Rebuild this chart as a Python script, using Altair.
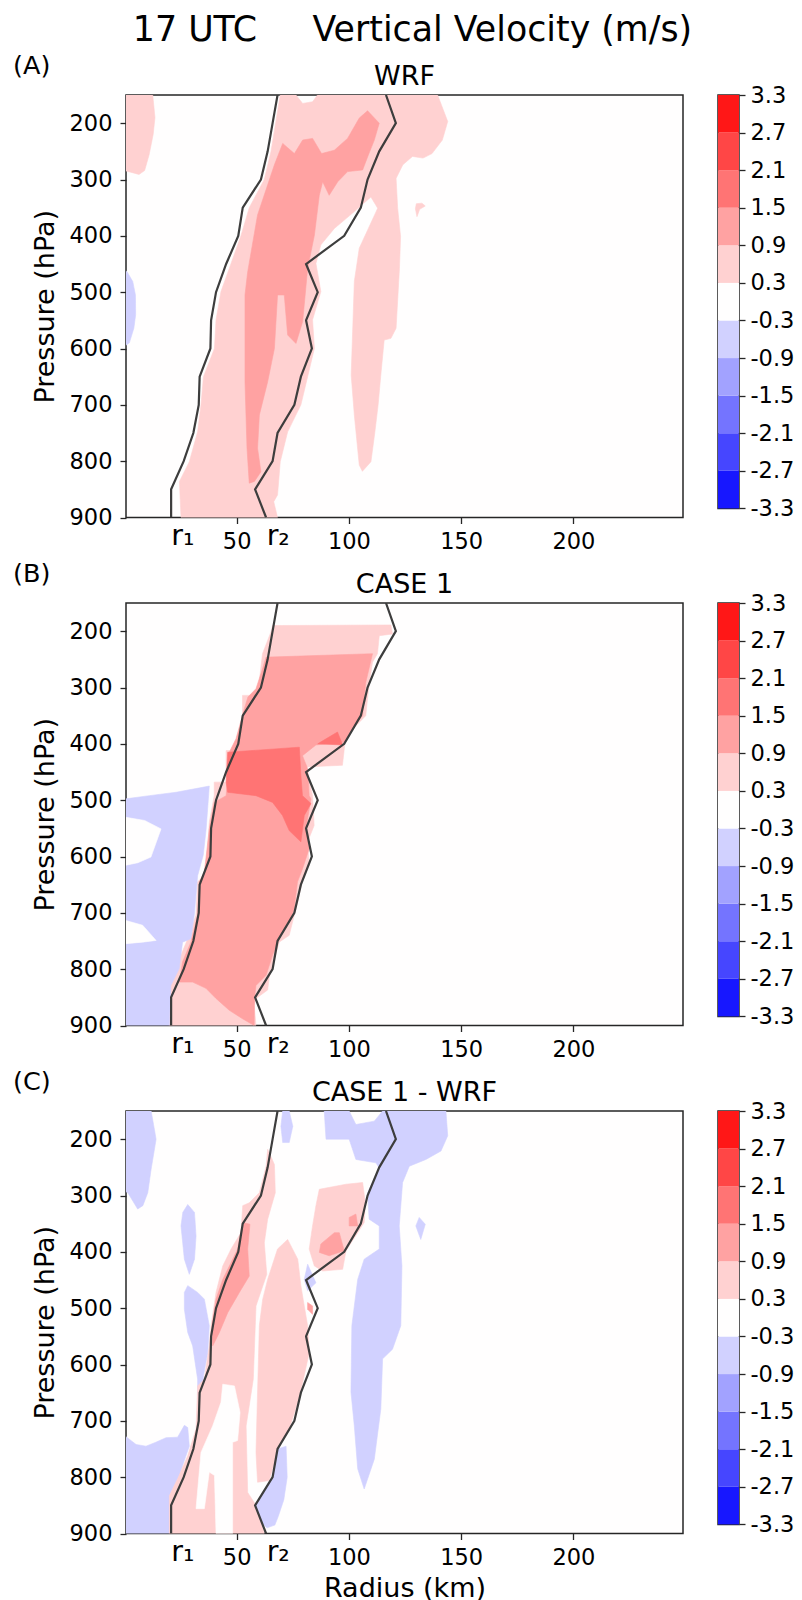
import altair as alt
import pandas as pd

FONT = "DejaVu Sans"

# Contour levels (m/s) and the colour of each filled band between them
LEVELS = [-3.3, -2.7, -2.1, -1.5, -0.9, -0.3, 0.3, 0.9, 1.5, 2.1, 2.7, 3.3]
BAND_COLORS = ["#1717ff", "#4646ff", "#7474ff", "#a2a2ff", "#d1d1ff", "#fffefe",
               "#ffd1d1", "#ffa2a2", "#ff7474", "#ff4646", "#ff1717"]

# Representative vertical velocity of each shaded region (m/s)
PALE_BLUE, WHITE, PALE_RED, MID_RED, RED = -0.6, 0.0, 0.6, 1.2, 1.8

X_TICKS = [50, 100, 150, 200]
Y_TICKS = [200, 300, 400, 500, 600, 700, 800, 900]

# Radii of the r1 / r2 lines at each pressure level
LINE_P = [900, 850, 800, 750, 700, 650, 600, 550, 500, 450, 400, 350, 300, 250, 200, 150]
R1 = [20.8, 20.8, 26.4, 30.7, 33.1, 33.5, 38.3, 38.6, 40.8, 45.3, 50.7, 52.7, 60.8, 63.8, 66.0, 68.2]
R2 = [63.1, 58.2, 66.0, 68.2, 75.7, 78.6, 83.5, 80.9, 86.1, 80.9, 97.9, 105.3, 108.3, 113.5, 120.9, 116.5]

R_MARKS = [26.0, 68.5]
R_NAMES = ["r\u2081", "r\u2082"]

# ---- WRF: contour regions as (radius km, pressure hPa) outlines ----
WRF_PALE_MAIN = [(25.2, 900), (24.5, 836), (28.9, 801), (32.6, 748), (34.1, 700), (35.2, 650),
                 (40.1, 600), (40.8, 549), (43.0, 499), (47.5, 449), (51.9, 400), (55.6, 350),
                 (62.3, 300), (65.3, 250), (69.4, 150), (76.4, 150), (79.4, 165), (83.8, 162),
                 (86.0, 150), (139.5, 150), (144.0, 197), (141.6, 230), (137.0, 254), (133.0, 262),
                 (128.3, 259), (124.0, 274), (121.0, 298), (121.7, 351), (123.0, 401), (122.5, 458),
                 (121.0, 564), (118.7, 582), (115.7, 585), (114.2, 647), (113.0, 700), (111.5, 750),
                 (109.8, 801), (106.0, 818), (104.6, 807), (102.4, 718), (101.0, 647), (102.4, 481),
                 (104.6, 422), (112.8, 351), (109.8, 331), (102.4, 357), (93.5, 387), (87.5, 416),
                 (85.3, 449), (87.5, 499), (83.8, 549), (84.6, 600), (81.6, 650), (78.6, 700),
                 (72.7, 748), (69.4, 801), (68.2, 860), (66.5, 872), (68.2, 900)]
WRF_PALE_TOPLEFT = [(0, 150), (12.6, 150), (13.6, 190), (12.8, 220), (11.0, 256), (9.0, 284),
                    (6.5, 291), (0, 284)]
WRF_PALE_BLOB = [(130.0, 343), (132.5, 342), (134.0, 347), (131.5, 353), (130.3, 366), (129.6, 352)]
WRF_BLUE_LEFT = [(0, 460), (1.2, 464), (3.7, 481), (4.9, 505), (5.0, 540), (4.2, 564), (2.2, 590),
                 (0, 596)]
WRF_MID = [(55.6, 839), (54.6, 777), (53.7, 659), (53.7, 505), (54.9, 464), (59.3, 363), (66.8, 274),
           (70.5, 236), (75.7, 254), (79.4, 230), (83.8, 227), (87.8, 254), (93.5, 248), (99.4, 227),
           (104.6, 191), (108.3, 178), (113.5, 200), (111.3, 230), (108.3, 260), (106.1, 283),
           (99.4, 286), (95.0, 304), (91.2, 328), (88.3, 304), (86.8, 328), (84.6, 399), (81.6, 458),
           (79.4, 552), (76.4, 591), (72.7, 576), (71.2, 505), (68.2, 505), (66.8, 600), (63.8, 659),
           (60.1, 718), (59.3, 777), (60.8, 819), (57.9, 836)]

# ---- CASE 1 ----
C1_PALE = [(66.0, 190), (118.7, 189), (119.4, 205), (113.5, 208), (112.7, 240), (110.5, 255),
           (108.8, 300), (107.5, 350), (103.1, 368), (98.6, 385), (97.1, 438), (80.8, 441),
           (83.8, 492), (84.5, 545), (81.6, 574), (82.3, 616), (81.1, 622), (79.5, 639), (77.1, 681),
           (74.9, 716), (73.4, 740), (68.9, 752), (66.0, 793), (64.5, 814), (63.8, 837), (58.6, 852),
           (57.8, 864), (58.6, 900), (20.0, 900), (20.0, 834), (23.7, 781), (25.2, 775), (28.2, 746),
           (31.9, 704), (32.6, 645), (35.6, 634), (37.1, 586), (37.8, 539), (40.0, 492), (40.0, 468),
           (45.3, 468), (45.3, 412), (49.0, 412), (52.6, 356), (52.6, 314), (57.8, 314), (60.0, 291),
           (61.5, 240), (65.3, 201)]
C1_BLUE = [(0, 498), (11.1, 492), (23.0, 486), (37.8, 475), (36.4, 551), (35.1, 598), (32.6, 634),
           (31.1, 704), (29.6, 746), (25.9, 752), (24.4, 799), (20.7, 829), (20.0, 900), (0, 900)]
C1_HOLE_1 = [(0, 530), (9.0, 536), (16.3, 551), (11.8, 601), (6.0, 611), (0, 616)]
C1_HOLE_2 = [(0, 713), (8.1, 722), (14.1, 749), (8.1, 752), (0, 755)]
C1_MID = [(64.5, 246), (110.5, 240), (107.5, 291), (106.1, 350), (102.3, 368), (97.9, 397),
          (85.3, 402), (79.3, 421), (81.6, 444), (82.3, 492), (83.1, 498), (80.8, 551), (82.3, 586),
          (79.3, 622), (77.1, 645), (75.6, 693), (73.4, 716), (68.9, 746), (66.0, 775), (63.1, 811),
          (58.6, 829), (57.9, 852), (57.8, 900), (52.6, 888), (46.7, 873), (40.8, 852), (36.3, 834),
          (30.4, 823), (24.5, 823), (25.9, 787), (29.6, 752), (32.6, 704), (33.4, 645), (35.6, 628),
          (37.8, 551), (40.0, 504), (45.3, 492), (46.7, 415), (49.7, 391), (53.4, 338), (55.0, 317),
          (58.6, 302), (61.5, 267), (63.1, 246)]
C1_RED = [(46.0, 415), (77.9, 406), (78.6, 456), (79.3, 492), (83.1, 506), (80.1, 527), (78.6, 574),
          (73.4, 554), (70.4, 527), (66.0, 504), (58.6, 492), (46.0, 486), (45.3, 468)]
C1_RED_SMALL = [(86.1, 400), (94.9, 379), (97.2, 402)]

# ---- CASE 1 - WRF ----
D_BLUE_1 = [(0, 150), (11.9, 150), (14.1, 200), (11.9, 253), (10.4, 295), (8.2, 318), (5.9, 324),
            (1.5, 295), (0, 292)]
D_BLUE_2 = [(28.2, 316), (31.2, 330), (31.9, 372), (31.2, 413), (28.9, 440), (26.7, 413),
            (25.2, 354), (26.0, 330)]
D_BLUE_3 = [(28.2, 460), (32.6, 472), (35.6, 484), (37.8, 531), (37.1, 579), (35.2, 620),
            (34.1, 700), (32.6, 703), (32.6, 626), (30.4, 567), (28.2, 543), (26.7, 502), (26.7, 472)]
D_BLUE_4 = [(0, 726), (5.2, 742), (9.6, 745), (14.0, 738), (18.5, 730), (23.7, 729), (26.7, 708),
            (28.2, 712), (28.9, 745), (26.7, 770), (24.5, 797), (22.3, 815), (20.0, 833), (20.0, 900),
            (0, 900)]
D_BLUE_5 = [(70.5, 150), (73.4, 150), (75.0, 177), (73.4, 206), (70.5, 206), (69.7, 177)]
D_BLUE_6 = [(89.0, 150), (100.1, 150), (103.1, 174), (111.3, 168), (115.0, 150), (143.2, 150),
            (144.0, 194), (141.0, 221), (134.3, 236), (126.9, 248), (123.9, 277), (122.4, 354),
            (123.6, 425), (123.1, 531), (119.4, 573), (115.0, 590), (114.2, 679), (111.3, 768),
            (106.8, 821), (103.9, 785), (102.4, 709), (100.9, 649), (101.3, 531), (103.9, 449),
            (106.8, 413), (113.5, 395), (113.5, 354), (109.0, 342), (108.3, 295), (113.5, 251),
            (112.0, 242), (103.1, 236), (100.1, 200), (89.8, 200)]
D_BLUE_7 = [(131.3, 339), (134.0, 351), (132.0, 378), (129.8, 354)]
D_BLUE_8 = [(81.6, 422), (85.3, 455), (81.6, 469), (80.1, 449)]
D_BLUE_9 = [(68.2, 750), (72.0, 745), (72.5, 800), (71.0, 840), (68.5, 870), (67.0, 885),
            (63.5, 890), (61.0, 880), (58.2, 850), (62.0, 825), (66.0, 800), (67.0, 775)]
D_PALE_1 = [(63.8, 218), (66.8, 245), (67.2, 295), (63.8, 342), (62.3, 384), (63.4, 440),
            (58.6, 496), (57.4, 626), (54.2, 709), (54.9, 827), (58.6, 850), (62.3, 900), (20.0, 900),
            (20.0, 833), (23.7, 803), (28.2, 762), (31.9, 714), (32.6, 638), (35.6, 626), (37.8, 567),
            (38.6, 531), (40.8, 472), (43.8, 425), (47.5, 395), (51.9, 366), (52.7, 318), (55.6, 313),
            (60.1, 295), (63.1, 248)]
D_PALE_2 = [(72.7, 378), (77.2, 413), (78.6, 460), (80.1, 496), (81.6, 531), (82.3, 579),
            (79.4, 632), (77.2, 667), (73.4, 714), (69.0, 744), (66.0, 785), (64.5, 806), (59.3, 809),
            (58.6, 756), (59.3, 649), (60.1, 531), (61.6, 484), (63.8, 449), (68.2, 395)]
D_PALE_3 = [(86.8, 289), (98.7, 280), (106.1, 277), (107.3, 313), (106.8, 348), (98.7, 398),
            (97.2, 431), (88.3, 434), (84.6, 425), (82.3, 395), (83.8, 354), (85.3, 318)]
D_GAP_1 = [(43.8, 635), (49.0, 638), (51.5, 685), (50.4, 735), (48.2, 738), (48.2, 900), (40.8, 900),
           (40.1, 797), (37.8, 791), (35.6, 856), (31.9, 856), (34.1, 756), (39.3, 709), (43.0, 667)]
D_MID_1 = [(52.7, 348), (55.9, 351), (54.9, 395), (55.6, 443), (51.2, 472), (46.0, 508), (42.3, 543),
           (39.3, 567), (39.0, 531), (40.8, 484), (43.8, 449), (47.5, 419), (50.4, 395)]
D_MID_2 = [(100.1, 339), (103.1, 333), (103.9, 354), (100.1, 354)]
D_MID_3 = [(93.5, 366), (95.7, 366), (97.9, 398), (91.2, 407), (86.8, 401), (87.5, 386)]
D_MID_4 = [(81.6, 490), (83.8, 496), (83.8, 511), (81.6, 502)]

PANEL_W, PANEL_H = 557, 422.5
CBAR_W, CBAR_H = 21, 413.4

CSCALE = alt.Scale(type="threshold", domain=LEVELS[1:-1], range=BAND_COLORS)


def x_enc(title):
    return alt.X("r:Q", scale=alt.Scale(domain=[0.7, 248.8], nice=False, zero=False),
                 axis=alt.Axis(values=X_TICKS, title=title, labelPadding=7,
                               titleY=63, titleBaseline="alphabetic"))


Y_ENC = alt.Y("p:Q", scale=alt.Scale(domain=[150, 900], reverse=True, nice=False, zero=False),
              axis=alt.Axis(values=Y_TICKS, title="Pressure (hPa)", labelPadding=8,
                            titleX=-81, titleY=211.25, titleBaseline="middle", titleAngle=270))


def region_layer(points, value, xe):
    pts = list(points) + [points[0]]
    df = pd.DataFrame({"r": [a for a, _ in pts], "p": [b for _, b in pts],
                       "i": list(range(len(pts))), "w": value})
    return alt.Chart(df).mark_line(clip=True, strokeWidth=0.6).encode(
        x=xe, y=Y_ENC, order="i:Q",
        fill=alt.Fill("w:Q", scale=CSCALE, legend=None),
        stroke=alt.Stroke("w:Q", scale=CSCALE, legend=None))


def panel(regions, tag, subtitle, xtitle=None, headline=None):
    xe = x_enc(xtitle)
    layers = [region_layer(pts, val, xe) for pts, val in regions]

    lines = pd.DataFrame({"r": R1 + R2, "p": LINE_P + LINE_P,
                          "name": ["r1"] * len(R1) + ["r2"] * len(R2)})
    layers.append(alt.Chart(lines).mark_line(clip=True, color="#3d3d3d", strokeWidth=2.2).encode(
        x=xe, y=Y_ENC, detail="name:N", order="p:Q"))

    rlab = pd.DataFrame({"r": R_MARKS, "t": R_NAMES})
    layers.append(alt.Chart(rlab).mark_text(font=FONT, fontSize=28.5, baseline="alphabetic",
                                            align="center", color="black").encode(
        x=xe, y=alt.value(PANEL_H + 27.5), text="t:N"))

    layers.append(alt.Chart().mark_text(text=tag, font=FONT, fontSize=25.5, align="left",
                                        baseline="alphabetic", color="black").encode(
        x=alt.value(-113), y=alt.value(-21.5)))
    layers.append(alt.Chart().mark_text(text=subtitle, font=FONT, fontSize=27, align="center",
                                        baseline="alphabetic", color="black").encode(
        x=alt.value(PANEL_W / 2), y=alt.value(-10.5)))
    if headline:
        layers.append(alt.Chart().mark_text(text=headline, font=FONT, fontSize=34.8, align="center",
                                            baseline="alphabetic", color="black").encode(
            x=alt.value(286.5), y=alt.value(-54)))
    return alt.layer(*layers).properties(width=PANEL_W, height=PANEL_H)


def colorbar():
    df = pd.DataFrame({"lo": LEVELS[:-1], "hi": LEVELS[1:],
                       "mid": [(a + b) / 2 for a, b in zip(LEVELS[:-1], LEVELS[1:])]})
    return alt.Chart(df).mark_rect().encode(
        x=alt.value(0), x2=alt.value(CBAR_W),
        y=alt.Y("lo:Q", scale=alt.Scale(domain=[LEVELS[0], LEVELS[-1]], nice=False, zero=False),
                axis=alt.Axis(orient="right", values=LEVELS, title=None, labelPadding=5,
                              labelExpr="datum.value < 0 ? '-' + format(-datum.value, '.1f') : format(datum.value, '.1f')")),
        y2="hi:Q",
        fill=alt.Fill("mid:Q", scale=CSCALE, legend=None),
    ).properties(width=CBAR_W, height=CBAR_H)


wrf = panel([(WRF_PALE_MAIN, PALE_RED), (WRF_PALE_TOPLEFT, PALE_RED), (WRF_PALE_BLOB, PALE_RED),
             (WRF_BLUE_LEFT, PALE_BLUE), (WRF_MID, MID_RED)],
            "(A)", "WRF",
            headline="17 UTC\u00a0\u00a0\u00a0\u00a0\u00a0Vertical Velocity (m/s)")

case1 = panel([(C1_PALE, PALE_RED), (C1_BLUE, PALE_BLUE), (C1_HOLE_1, WHITE), (C1_HOLE_2, WHITE),
               (C1_MID, MID_RED), (C1_RED, RED), (C1_RED_SMALL, RED)],
              "(B)", "CASE 1")

diff = panel([(D_BLUE_1, PALE_BLUE), (D_BLUE_2, PALE_BLUE), (D_BLUE_3, PALE_BLUE),
              (D_BLUE_4, PALE_BLUE), (D_BLUE_5, PALE_BLUE), (D_BLUE_6, PALE_BLUE),
              (D_BLUE_7, PALE_BLUE), (D_BLUE_8, PALE_BLUE),
              (D_PALE_1, PALE_RED), (D_PALE_2, PALE_RED), (D_PALE_3, PALE_RED), (D_GAP_1, WHITE),
              (D_BLUE_9, PALE_BLUE),
              (D_MID_1, MID_RED), (D_MID_2, MID_RED), (D_MID_3, MID_RED), (D_MID_4, MID_RED)],
             "(C)", "CASE 1 - WRF", xtitle="Radius (km)")

chart = alt.ConcatChart(
    concat=[wrf, colorbar(), case1, colorbar(), diff, colorbar()],
    columns=2,
    spacing={"row": 85, "column": 35},
    bounds="flush",
).properties(
    padding={"left": 12, "top": 12, "right": 5, "bottom": 3},
).configure(
    font=FONT,
).configure_view(
    stroke="#262626", strokeWidth=1.5, fill="#fffefe",
).configure_axis(
    labelFont=FONT, labelFontSize=22.5, labelColor="black",
    titleFont=FONT, titleFontSize=27, titleFontWeight="normal", titleColor="black",
    tickSize=6, tickColor="#262626", tickWidth=1.3, domain=False, grid=False,
)

chart.save("out.html", embed_options={"renderer": "svg", "actions": False})
